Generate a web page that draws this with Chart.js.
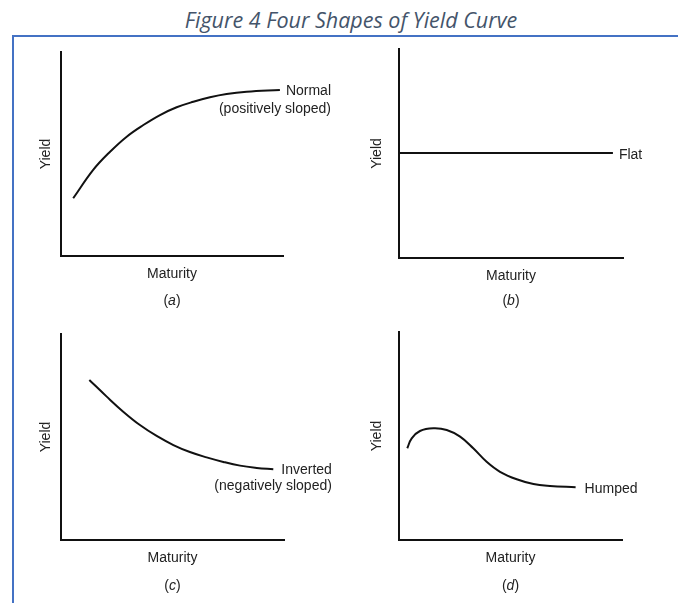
<!DOCTYPE html>
<html>
<head>
<meta charset="utf-8">
<title>Four Shapes of Yield Curve</title>
<script src="https://cdn.jsdelivr.net/npm/chart.js@4.4.1/dist/chart.umd.min.js"></script>
<style>
  body { margin: 0; background: #fff; width: 678px; height: 603px; overflow: hidden; position: relative; }
  #title { position: absolute; top: 5px; left: 0; width: 702px; text-align: center; line-height: 1.362;
           font: italic 21.5px "Open Sans", sans-serif; color: #44546A; }
  #frame { position: absolute; left: 12px; top: 35px; width: 700px; height: 600px;
           border-top: 2px solid #4472C4; border-left: 2px solid #4472C4; }
  canvas { position: absolute; }
</style>
</head>
<body>
<div id="title">Figure 4 Four Shapes of Yield Curve</div>
<div id="frame"></div>
<canvas id="panelA" width="339" height="275" style="left:0;top:40px"></canvas>
<canvas id="panelB" width="339" height="275" style="left:339px;top:40px"></canvas>
<canvas id="panelC" width="339" height="283" style="left:0;top:320px"></canvas>
<canvas id="panelD" width="339" height="283" style="left:339px;top:320px"></canvas>
<script>
// maturity / yield pairs (axis units 0..10)
const normalMaturity = [0.55, 1.45, 2.21, 2.96, 3.71, 4.46, 5.21, 5.96, 6.71, 7.46, 8.36, 9.86];
const normalYield    = [2.83, 4.22, 5.11, 5.85, 6.42, 6.91, 7.29, 7.56, 7.78, 7.94, 8.05, 8.14];

const flatMaturity = [0, 9.55];
const flatYield    = [5.02, 5.02];

const invertedMaturity = [1.27, 2.05, 2.79, 3.54, 4.29, 5.04, 5.78, 6.53, 7.28, 8.03, 8.78, 9.52];
const invertedYield    = [7.77, 6.96, 6.23, 5.58, 5.05, 4.61, 4.27, 4.01, 3.79, 3.61, 3.50, 3.43];

const humpedMaturity = [0.37, 0.57, 0.94, 1.54, 2.14, 2.74, 3.33, 3.93, 4.53, 5.28, 6.03, 6.77, 7.92];
const humpedYield    = [4.41, 4.89, 5.24, 5.37, 5.29, 4.97, 4.41, 3.76, 3.28, 2.92, 2.69, 2.60, 2.54];

const textFont = '14px "Liberation Sans", Arial, sans-serif';
const italicFont = 'italic 14px "Liberation Sans", Arial, sans-serif';

// axis names, curve name and the (a)/(b)... caption
const shapeText = {
    id: 'shapeText',
    afterDatasetsDraw(chart, args, opts) {
        const ctx = chart.ctx;
        const a = chart.chartArea;
        const pts = chart.getDatasetMeta(0).data;
        const last = pts[pts.length - 1];
        ctx.save();
        ctx.fillStyle = '#222';
        ctx.font = textFont;
        ctx.textBaseline = 'middle';

        const x0 = last.x + opts.labelGap;
        const y0 = last.y + opts.labelShift;
        const right = x0 + ctx.measureText(opts.label[0]).width;
        ctx.textAlign = 'left';
        ctx.fillText(opts.label[0], x0, y0);
        ctx.textAlign = 'right';
        opts.label.slice(1).forEach((line, i) => {
            ctx.fillText(line, right, y0 + (i + 1) * opts.lineGap);
        });

        ctx.textAlign = 'center';
        ctx.fillText('Maturity', (a.left + a.right) / 2, a.bottom + 18);

        ctx.save();
        ctx.translate(a.left - opts.yieldGap, (a.top + a.bottom) / 2);
        ctx.rotate(-Math.PI / 2);
        ctx.fillText('Yield', 0, 0);
        ctx.restore();

        // caption like "(a)" with the letter in italics
        ctx.textAlign = 'left';
        const wOpen = ctx.measureText('(').width;
        const wClose = ctx.measureText(')').width;
        ctx.font = italicFont;
        const wLetter = ctx.measureText(opts.caption).width;
        let cx = (a.left + a.right) / 2 - (wOpen + wLetter + wClose) / 2;
        const cy = a.bottom + opts.captionGap;
        ctx.font = textFont;
        ctx.fillText('(', cx, cy);
        cx += wOpen;
        ctx.font = italicFont;
        ctx.fillText(opts.caption, cx, cy);
        cx += wLetter;
        ctx.font = textFont;
        ctx.fillText(')', cx, cy);
        ctx.restore();
    }
};

function axis() {
    return {
        type: 'linear',
        min: 0,
        max: 10,
        ticks: { display: false },
        grid: { display: false, drawTicks: false },
        border: { display: true, color: '#111', width: 2 }
    };
}

function makePanel(id, xs, ys, padding, text) {
    new Chart(document.getElementById(id), {
        type: 'line',
        data: {
            datasets: [{
                data: xs.map((x, i) => ({ x: x, y: ys[i] })),
                borderColor: '#111',
                borderWidth: 2,
                pointRadius: 0,
                fill: false,
                tension: 0.4
            }]
        },
        options: {
            responsive: false,
            animation: false,
            devicePixelRatio: 1,
            layout: { padding: padding },
            scales: { x: axis(), y: axis() },
            plugins: {
                legend: { display: false },
                tooltip: { enabled: false },
                shapeText: text
            }
        },
        plugins: [shapeText]
    });
}

makePanel('panelA', normalMaturity, normalYield,
    { left: 61, top: 12, right: 56, bottom: 59 },
    { label: ['Normal', '(positively sloped)'], labelGap: 6, labelShift: 1.5, lineGap: 18,
      yieldGap: 15, caption: 'a', captionGap: 45 });

makePanel('panelB', flatMaturity, flatYield,
    { left: 60, top: 9, right: 55, bottom: 57 },
    { label: ['Flat'], labelGap: 6, labelShift: 2, lineGap: 18,
      yieldGap: 21.5, caption: 'b', captionGap: 43 });

makePanel('panelC', invertedMaturity, invertedYield,
    { left: 61, top: 14, right: 55, bottom: 63 },
    { label: ['Inverted', '(negatively sloped)'], labelGap: 8, labelShift: 1, lineGap: 16,
      yieldGap: 15, caption: 'c', captionGap: 46 });

makePanel('panelD', humpedMaturity, humpedYield,
    { left: 60, top: 12, right: 56, bottom: 63 },
    { label: ['Humped'], labelGap: 9, labelShift: 2, lineGap: 18,
      yieldGap: 21.5, caption: 'd', captionGap: 46 });
</script>
</body>
</html>
